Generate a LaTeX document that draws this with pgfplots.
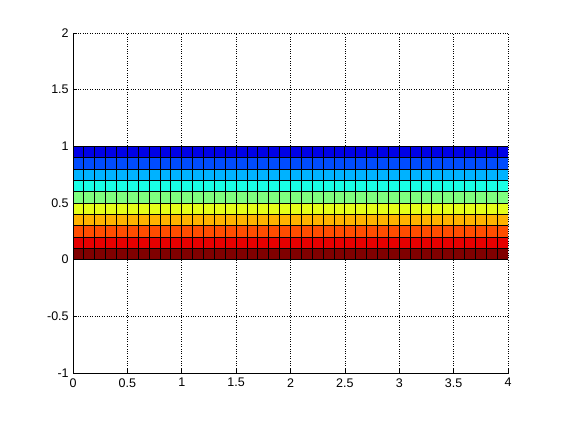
\documentclass[border=0pt]{standalone}
\usepackage{fontspec}
\setmainfont{Liberation Sans}
\usepackage{pgfplots}
\pgfplotsset{compat=1.18}
\begin{document}
\fontsize{12.5}{15}\selectfont
\begin{tikzpicture}
\begin{axis}[
  scale only axis, width=435pt, height=340pt,
  xmin=0, xmax=4, ymin=-1, ymax=2,
  xtick={0,0.5,...,4}, ytick={-1,-0.5,...,2},
  axis x line*=bottom, axis y line*=left,
  axis line style={-, black, line width=0.8pt},
  tick align=inside, major tick length=4pt,
  tick style={black, line width=0.6pt},
  grid=major, major grid style={black, dotted, line width=0.6pt},
  /pgf/number format/assume math mode=true,
  ticklabel style={font=\fontsize{12.5}{15}\selectfont},
  xticklabel style={yshift=-1pt},
  colormap/jet, point meta min=0, point meta max=10,
  every axis plot/.append style={line width=0.9pt},
]
\addplot[surf, shader=flat corner, faceted color=black, draw=black, mesh/cols=41, point meta=explicit] coordinates {
(0,0)[10] (0.1,0)[10] (0.2,0)[10] (0.3,0)[10] (0.4,0)[10] (0.5,0)[10] (0.6,0)[10] (0.7,0)[10] (0.8,0)[10] (0.9,0)[10] (1,0)[10] (1.1,0)[10] (1.2,0)[10] (1.3,0)[10] (1.4,0)[10] (1.5,0)[10] (1.6,0)[10] (1.7,0)[10] (1.8,0)[10] (1.9,0)[10] (2,0)[10] (2.1,0)[10] (2.2,0)[10] (2.3,0)[10] (2.4,0)[10] (2.5,0)[10] (2.6,0)[10] (2.7,0)[10] (2.8,0)[10] (2.9,0)[10] (3,0)[10] (3.1,0)[10] (3.2,0)[10] (3.3,0)[10] (3.4,0)[10] (3.5,0)[10] (3.6,0)[10] (3.7,0)[10] (3.8,0)[10] (3.9,0)[10] (4,0)[10]
(0,0.1)[9] (0.1,0.1)[9] (0.2,0.1)[9] (0.3,0.1)[9] (0.4,0.1)[9] (0.5,0.1)[9] (0.6,0.1)[9] (0.7,0.1)[9] (0.8,0.1)[9] (0.9,0.1)[9] (1,0.1)[9] (1.1,0.1)[9] (1.2,0.1)[9] (1.3,0.1)[9] (1.4,0.1)[9] (1.5,0.1)[9] (1.6,0.1)[9] (1.7,0.1)[9] (1.8,0.1)[9] (1.9,0.1)[9] (2,0.1)[9] (2.1,0.1)[9] (2.2,0.1)[9] (2.3,0.1)[9] (2.4,0.1)[9] (2.5,0.1)[9] (2.6,0.1)[9] (2.7,0.1)[9] (2.8,0.1)[9] (2.9,0.1)[9] (3,0.1)[9] (3.1,0.1)[9] (3.2,0.1)[9] (3.3,0.1)[9] (3.4,0.1)[9] (3.5,0.1)[9] (3.6,0.1)[9] (3.7,0.1)[9] (3.8,0.1)[9] (3.9,0.1)[9] (4,0.1)[9]
(0,0.2)[8] (0.1,0.2)[8] (0.2,0.2)[8] (0.3,0.2)[8] (0.4,0.2)[8] (0.5,0.2)[8] (0.6,0.2)[8] (0.7,0.2)[8] (0.8,0.2)[8] (0.9,0.2)[8] (1,0.2)[8] (1.1,0.2)[8] (1.2,0.2)[8] (1.3,0.2)[8] (1.4,0.2)[8] (1.5,0.2)[8] (1.6,0.2)[8] (1.7,0.2)[8] (1.8,0.2)[8] (1.9,0.2)[8] (2,0.2)[8] (2.1,0.2)[8] (2.2,0.2)[8] (2.3,0.2)[8] (2.4,0.2)[8] (2.5,0.2)[8] (2.6,0.2)[8] (2.7,0.2)[8] (2.8,0.2)[8] (2.9,0.2)[8] (3,0.2)[8] (3.1,0.2)[8] (3.2,0.2)[8] (3.3,0.2)[8] (3.4,0.2)[8] (3.5,0.2)[8] (3.6,0.2)[8] (3.7,0.2)[8] (3.8,0.2)[8] (3.9,0.2)[8] (4,0.2)[8]
(0,0.3)[7] (0.1,0.3)[7] (0.2,0.3)[7] (0.3,0.3)[7] (0.4,0.3)[7] (0.5,0.3)[7] (0.6,0.3)[7] (0.7,0.3)[7] (0.8,0.3)[7] (0.9,0.3)[7] (1,0.3)[7] (1.1,0.3)[7] (1.2,0.3)[7] (1.3,0.3)[7] (1.4,0.3)[7] (1.5,0.3)[7] (1.6,0.3)[7] (1.7,0.3)[7] (1.8,0.3)[7] (1.9,0.3)[7] (2,0.3)[7] (2.1,0.3)[7] (2.2,0.3)[7] (2.3,0.3)[7] (2.4,0.3)[7] (2.5,0.3)[7] (2.6,0.3)[7] (2.7,0.3)[7] (2.8,0.3)[7] (2.9,0.3)[7] (3,0.3)[7] (3.1,0.3)[7] (3.2,0.3)[7] (3.3,0.3)[7] (3.4,0.3)[7] (3.5,0.3)[7] (3.6,0.3)[7] (3.7,0.3)[7] (3.8,0.3)[7] (3.9,0.3)[7] (4,0.3)[7]
(0,0.4)[6] (0.1,0.4)[6] (0.2,0.4)[6] (0.3,0.4)[6] (0.4,0.4)[6] (0.5,0.4)[6] (0.6,0.4)[6] (0.7,0.4)[6] (0.8,0.4)[6] (0.9,0.4)[6] (1,0.4)[6] (1.1,0.4)[6] (1.2,0.4)[6] (1.3,0.4)[6] (1.4,0.4)[6] (1.5,0.4)[6] (1.6,0.4)[6] (1.7,0.4)[6] (1.8,0.4)[6] (1.9,0.4)[6] (2,0.4)[6] (2.1,0.4)[6] (2.2,0.4)[6] (2.3,0.4)[6] (2.4,0.4)[6] (2.5,0.4)[6] (2.6,0.4)[6] (2.7,0.4)[6] (2.8,0.4)[6] (2.9,0.4)[6] (3,0.4)[6] (3.1,0.4)[6] (3.2,0.4)[6] (3.3,0.4)[6] (3.4,0.4)[6] (3.5,0.4)[6] (3.6,0.4)[6] (3.7,0.4)[6] (3.8,0.4)[6] (3.9,0.4)[6] (4,0.4)[6]
(0,0.5)[5] (0.1,0.5)[5] (0.2,0.5)[5] (0.3,0.5)[5] (0.4,0.5)[5] (0.5,0.5)[5] (0.6,0.5)[5] (0.7,0.5)[5] (0.8,0.5)[5] (0.9,0.5)[5] (1,0.5)[5] (1.1,0.5)[5] (1.2,0.5)[5] (1.3,0.5)[5] (1.4,0.5)[5] (1.5,0.5)[5] (1.6,0.5)[5] (1.7,0.5)[5] (1.8,0.5)[5] (1.9,0.5)[5] (2,0.5)[5] (2.1,0.5)[5] (2.2,0.5)[5] (2.3,0.5)[5] (2.4,0.5)[5] (2.5,0.5)[5] (2.6,0.5)[5] (2.7,0.5)[5] (2.8,0.5)[5] (2.9,0.5)[5] (3,0.5)[5] (3.1,0.5)[5] (3.2,0.5)[5] (3.3,0.5)[5] (3.4,0.5)[5] (3.5,0.5)[5] (3.6,0.5)[5] (3.7,0.5)[5] (3.8,0.5)[5] (3.9,0.5)[5] (4,0.5)[5]
(0,0.6)[4] (0.1,0.6)[4] (0.2,0.6)[4] (0.3,0.6)[4] (0.4,0.6)[4] (0.5,0.6)[4] (0.6,0.6)[4] (0.7,0.6)[4] (0.8,0.6)[4] (0.9,0.6)[4] (1,0.6)[4] (1.1,0.6)[4] (1.2,0.6)[4] (1.3,0.6)[4] (1.4,0.6)[4] (1.5,0.6)[4] (1.6,0.6)[4] (1.7,0.6)[4] (1.8,0.6)[4] (1.9,0.6)[4] (2,0.6)[4] (2.1,0.6)[4] (2.2,0.6)[4] (2.3,0.6)[4] (2.4,0.6)[4] (2.5,0.6)[4] (2.6,0.6)[4] (2.7,0.6)[4] (2.8,0.6)[4] (2.9,0.6)[4] (3,0.6)[4] (3.1,0.6)[4] (3.2,0.6)[4] (3.3,0.6)[4] (3.4,0.6)[4] (3.5,0.6)[4] (3.6,0.6)[4] (3.7,0.6)[4] (3.8,0.6)[4] (3.9,0.6)[4] (4,0.6)[4]
(0,0.7)[3] (0.1,0.7)[3] (0.2,0.7)[3] (0.3,0.7)[3] (0.4,0.7)[3] (0.5,0.7)[3] (0.6,0.7)[3] (0.7,0.7)[3] (0.8,0.7)[3] (0.9,0.7)[3] (1,0.7)[3] (1.1,0.7)[3] (1.2,0.7)[3] (1.3,0.7)[3] (1.4,0.7)[3] (1.5,0.7)[3] (1.6,0.7)[3] (1.7,0.7)[3] (1.8,0.7)[3] (1.9,0.7)[3] (2,0.7)[3] (2.1,0.7)[3] (2.2,0.7)[3] (2.3,0.7)[3] (2.4,0.7)[3] (2.5,0.7)[3] (2.6,0.7)[3] (2.7,0.7)[3] (2.8,0.7)[3] (2.9,0.7)[3] (3,0.7)[3] (3.1,0.7)[3] (3.2,0.7)[3] (3.3,0.7)[3] (3.4,0.7)[3] (3.5,0.7)[3] (3.6,0.7)[3] (3.7,0.7)[3] (3.8,0.7)[3] (3.9,0.7)[3] (4,0.7)[3]
(0,0.8)[2] (0.1,0.8)[2] (0.2,0.8)[2] (0.3,0.8)[2] (0.4,0.8)[2] (0.5,0.8)[2] (0.6,0.8)[2] (0.7,0.8)[2] (0.8,0.8)[2] (0.9,0.8)[2] (1,0.8)[2] (1.1,0.8)[2] (1.2,0.8)[2] (1.3,0.8)[2] (1.4,0.8)[2] (1.5,0.8)[2] (1.6,0.8)[2] (1.7,0.8)[2] (1.8,0.8)[2] (1.9,0.8)[2] (2,0.8)[2] (2.1,0.8)[2] (2.2,0.8)[2] (2.3,0.8)[2] (2.4,0.8)[2] (2.5,0.8)[2] (2.6,0.8)[2] (2.7,0.8)[2] (2.8,0.8)[2] (2.9,0.8)[2] (3,0.8)[2] (3.1,0.8)[2] (3.2,0.8)[2] (3.3,0.8)[2] (3.4,0.8)[2] (3.5,0.8)[2] (3.6,0.8)[2] (3.7,0.8)[2] (3.8,0.8)[2] (3.9,0.8)[2] (4,0.8)[2]
(0,0.9)[1] (0.1,0.9)[1] (0.2,0.9)[1] (0.3,0.9)[1] (0.4,0.9)[1] (0.5,0.9)[1] (0.6,0.9)[1] (0.7,0.9)[1] (0.8,0.9)[1] (0.9,0.9)[1] (1,0.9)[1] (1.1,0.9)[1] (1.2,0.9)[1] (1.3,0.9)[1] (1.4,0.9)[1] (1.5,0.9)[1] (1.6,0.9)[1] (1.7,0.9)[1] (1.8,0.9)[1] (1.9,0.9)[1] (2,0.9)[1] (2.1,0.9)[1] (2.2,0.9)[1] (2.3,0.9)[1] (2.4,0.9)[1] (2.5,0.9)[1] (2.6,0.9)[1] (2.7,0.9)[1] (2.8,0.9)[1] (2.9,0.9)[1] (3,0.9)[1] (3.1,0.9)[1] (3.2,0.9)[1] (3.3,0.9)[1] (3.4,0.9)[1] (3.5,0.9)[1] (3.6,0.9)[1] (3.7,0.9)[1] (3.8,0.9)[1] (3.9,0.9)[1] (4,0.9)[1]
(0,1)[0] (0.1,1)[0] (0.2,1)[0] (0.3,1)[0] (0.4,1)[0] (0.5,1)[0] (0.6,1)[0] (0.7,1)[0] (0.8,1)[0] (0.9,1)[0] (1,1)[0] (1.1,1)[0] (1.2,1)[0] (1.3,1)[0] (1.4,1)[0] (1.5,1)[0] (1.6,1)[0] (1.7,1)[0] (1.8,1)[0] (1.9,1)[0] (2,1)[0] (2.1,1)[0] (2.2,1)[0] (2.3,1)[0] (2.4,1)[0] (2.5,1)[0] (2.6,1)[0] (2.7,1)[0] (2.8,1)[0] (2.9,1)[0] (3,1)[0] (3.1,1)[0] (3.2,1)[0] (3.3,1)[0] (3.4,1)[0] (3.5,1)[0] (3.6,1)[0] (3.7,1)[0] (3.8,1)[0] (3.9,1)[0] (4,1)[0]
};
\end{axis}
\path ([shift={(-73pt,-48pt)}]current axis.south west) rectangle ([shift={(53pt,33pt)}]current axis.north east);
\end{tikzpicture}
\end{document}
